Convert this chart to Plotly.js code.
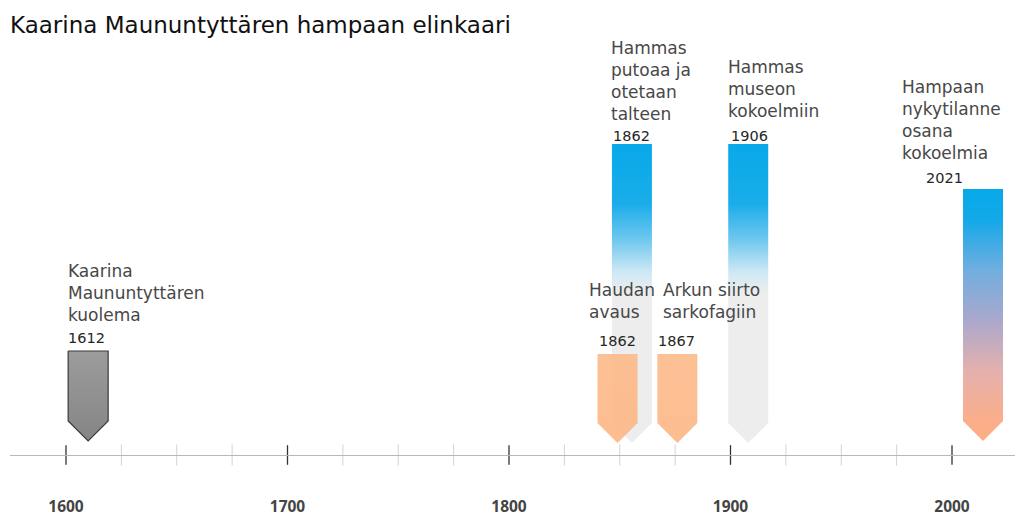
<!DOCTYPE html>
<html>
<head>
<meta charset="utf-8">
<script src="https://cdn.plot.ly/plotly-3.0.1.min.js"></script>
<style>html,body{margin:0;padding:0;background:#fff;}#chart{width:1017px;height:518px;}</style>
</head>
<body>
<div id="chart"></div>
<script>
// ---- data ----
var eventNames = [
  "Kaarina<br>Maununtyttären<br>kuolema",
  "Haudan<br>avaus",
  "Hammas<br>putoaa ja<br>otetaan<br>talteen",
  "Arkun siirto<br>sarkofagiin",
  "Hammas<br>museon<br>kokoelmiin",
  "Hampaan<br>nykytilanne<br>osana<br>kokoelmia"
];
var eventYears = [1612, 1862, 1862, 1867, 1906, 2021];
var eventKinds = ["death", "grave", "tooth", "grave", "tooth", "now"];
var majorTicks = [1600, 1700, 1800, 1900, 2000];
var tickLabels = ["1600", "1700", "1800", "1900", "2000"];
var minorTicks = [1625, 1650, 1675, 1725, 1750, 1775, 1825, 1850, 1875, 1925, 1950, 1975];

// ---- layout of the marks (where the original tool placed them on the axis) ----
var place = [
  {cx: 1610,   top: 104, tip: 14, layer: 3, nameDx: 0,   nameY: 162, yearDx: 0,   yearY: 117},
  {cx: 1849,   top: 101, tip: 12, layer: 2, nameDx: -9,  nameY: 154, yearDx: 1,   yearY: 114},
  {cx: 1855.5, top: 311, tip: 12, layer: 1, nameDx: -1,  nameY: 374, yearDx: 1,   yearY: 319},
  {cx: 1876,   top: 101, tip: 12, layer: 2, nameDx: 6,   nameY: 154, yearDx: 1,   yearY: 114},
  {cx: 1908,   top: 311, tip: 12, layer: 1, nameDx: 0,   nameY: 366, yearDx: 3,   yearY: 319},
  {cx: 2014,   top: 266, tip: 14, layer: 1, nameDx: -61, nameY: 335, yearDx: -37, yearY: 277}
];
var pxPerYear = 886 / 400;
var halfW = 20 / pxPerYear;

var styles = {
  death: {fill: {type: "vertical", colorscale: [[0, "#858585"], [1, "#9c9c9c"]]}, line: {color: "#3a3a3a", width: 1.2}, opacity: 1},
  grave: {fill: {type: "vertical", colorscale: [[0, "#fdb988"], [1, "#fdbc8d"]]}, line: {width: 0}, opacity: 0.93},
  tooth: {fill: {type: "vertical", colorscale: [[0, "#ededed"], [0.5, "#ededed"], [0.57, "#cfe9f5"], [0.68, "#6fc7ef"], [0.8, "#1aade9"], [1, "#08a9e9"]]}, line: {width: 0}, opacity: 1},
  now: {fill: {type: "vertical", colorscale: [[0, "#fdae86"], [0.08, "#fbae8a"], [0.28, "#e4b0ae"], [0.48, "#aaa8cc"], [0.68, "#70aee0"], [0.88, "#12a9e9"], [1, "#08a9e9"]]}, line: {width: 0}, opacity: 1}
};

var traces = [];
var order = eventYears.map(function (y, i) { return i; }).sort(function (a, b) { return place[a].layer - place[b].layer; });
order.forEach(function (i) {
  var p = place[i], st = styles[eventKinds[i]];
  var l = p.cx - halfW, r = p.cx + halfW, sh = p.tip + 20;
  traces.push({
    type: "scatter", mode: "lines",
    x: [l, r, r, p.cx, l, l],
    y: [p.top, p.top, sh, p.tip, sh, p.top],
    fill: "toself", fillgradient: st.fill,
    line: st.line.width ? st.line : {width: 0, color: "rgba(0,0,0,0)"},
    opacity: st.opacity,
    hoverinfo: "skip", showlegend: false
  });
});
// axis ticks crossing the line
traces.push({type: "scatter", mode: "markers", x: minorTicks, y: minorTicks.map(function () { return 0; }),
  marker: {symbol: "line-ns", size: 15, line: {color: "#d2d2d2", width: 1}}, cliponaxis: false, hoverinfo: "skip", showlegend: false});
traces.push({type: "scatter", mode: "markers", x: majorTicks, y: majorTicks.map(function () { return 0; }),
  marker: {symbol: "line-ns", size: 14, line: {color: "#333333", width: 1.3}}, cliponaxis: false, hoverinfo: "skip", showlegend: false});

var annotations = [];
eventYears.forEach(function (yr, i) {
  var p = place[i], l = p.cx - halfW;
  annotations.push({x: l, y: p.nameY, xref: "x", yref: "y", text: eventNames[i], showarrow: false,
    xanchor: "left", yanchor: "middle", align: "left", xshift: p.nameDx - 2,
    font: {family: "DejaVu Sans", size: 17, color: "#474747"}});
  annotations.push({x: l, y: p.yearY, xref: "x", yref: "y", text: String(yr), showarrow: false,
    xanchor: "left", yanchor: "middle", align: "left", xshift: p.yearDx - 2,
    font: {family: "DejaVu Sans", size: 14.5, color: "#262626"}});
});

var layout = {
  width: 1017, height: 518,
  margin: {l: 10, r: 2, t: 0, b: 63},
  paper_bgcolor: "#ffffff", plot_bgcolor: "#ffffff",
  title: {text: "Kaarina Maununtyttären hampaan elinkaari", x: 10 / 1017, xref: "container", xanchor: "left",
    y: 1 - 25 / 518, yref: "container", yanchor: "middle",
    font: {family: "DejaVu Sans", size: 23, color: "#111111"}},
  xaxis: {range: [1600 - 56 / pxPerYear, 1600 + 949 / pxPerYear], showgrid: false, zeroline: false,
    showline: true, linecolor: "#b8b8b8", linewidth: 1,
    tickmode: "array", tickvals: majorTicks, ticktext: tickLabels, ticks: "",
    ticklabelstandoff: 37,
    tickfont: {family: "Open Sans", size: 15.5, weight: "bold", color: "#444444"}, fixedrange: true},
  yaxis: {range: [0, 455], visible: false, fixedrange: true},
  annotations: annotations,
  showlegend: false
};

Plotly.newPlot("chart", traces, layout, {displayModeBar: false, staticPlot: true});
</script>
</body>
</html>
